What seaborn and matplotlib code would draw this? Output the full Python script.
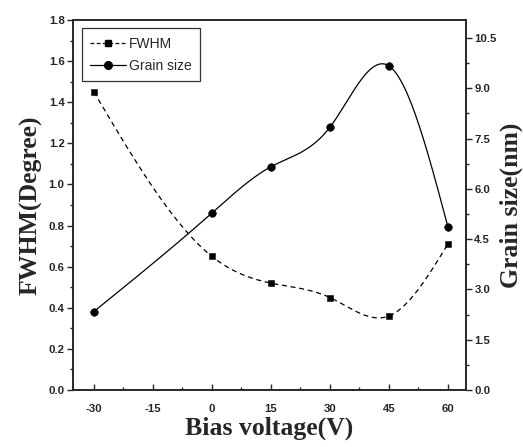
import numpy as np
import pandas as pd
import matplotlib
matplotlib.use("Agg")
import matplotlib.pyplot as plt
from matplotlib.lines import Line2D
from matplotlib.ticker import MultipleLocator, FormatStrFormatter
import seaborn as sns

# --- data ---
bias_v = [-30, 0, 15, 30, 45, 60]
fwhm_deg = [1.45, 0.65, 0.52, 0.45, 0.36, 0.71]
grain_nm = [2.34, 5.28, 6.66, 7.84, 9.67, 4.87]

SERIF = ["Liberation Serif", "DejaVu Serif"]
SANS = ["Liberation Sans Narrow", "Liberation Sans", "DejaVu Sans"]


def natural_spline(x, y, n=300):
    # smooth connecting line through the measured points (as Origin's spline)
    x = np.asarray(x, float)
    y = np.asarray(y, float)
    k = len(x)
    h = np.diff(x)
    A = np.zeros((k, k))
    r = np.zeros(k)
    A[0, 0] = A[-1, -1] = 1
    for i in range(1, k - 1):
        A[i, i - 1] = h[i - 1]
        A[i, i] = 2 * (h[i - 1] + h[i])
        A[i, i + 1] = h[i]
        r[i] = 6 * ((y[i + 1] - y[i]) / h[i] - (y[i] - y[i - 1]) / h[i - 1])
    m = np.linalg.solve(A, r)
    xs = np.linspace(x[0], x[-1], n)
    idx = np.clip(np.searchsorted(x, xs) - 1, 0, k - 2)
    x0, x1 = x[idx], x[idx + 1]
    hh = x1 - x0
    t0, t1 = x1 - xs, xs - x0
    ys = (m[idx] * t0 ** 3 / (6 * hh) + m[idx + 1] * t1 ** 3 / (6 * hh)
          + (y[idx] / hh - m[idx] * hh / 6) * t0
          + (y[idx + 1] / hh - m[idx + 1] * hh / 6) * t1)
    return xs, ys


sns.set_theme(style="ticks")
plt.rcParams["font.family"] = SANS
plt.rcParams["axes.linewidth"] = 1.2
plt.rcParams["axes.unicode_minus"] = False

df = pd.DataFrame({"bias": bias_v, "fwhm": fwhm_deg, "grain": grain_nm})
fx, fy = natural_spline(df["bias"], df["fwhm"])
gx, gy = natural_spline(df["bias"], df["grain"])

fig = plt.figure(figsize=(5.23, 4.47), dpi=100)
ax = fig.add_axes([0.1396, 0.1275, 0.7514, 0.8278])
ax2 = ax.twinx()

sns.lineplot(x=fx, y=fy, ax=ax, color="black", lw=0.9, linestyle=(0, (4, 3)), legend=False)
sns.scatterplot(data=df, x="bias", y="fwhm", ax=ax, marker="s", s=22, color="black",
                edgecolor="black", legend=False, zorder=3)
sns.lineplot(x=gx, y=gy, ax=ax2, color="black", lw=0.9, legend=False)
sns.scatterplot(data=df, x="bias", y="grain", ax=ax2, marker="o", s=30, color="black",
                edgecolor="black", legend=False, zorder=3)

ax.set_xlim(-35.3, 64.6)
ax.set_ylim(0, 1.8)
ax2.set_ylim(0, 11.04)

ax.xaxis.set_major_locator(MultipleLocator(15))
ax.xaxis.set_minor_locator(MultipleLocator(7.5))
ax.yaxis.set_major_locator(MultipleLocator(0.2))
ax.yaxis.set_minor_locator(MultipleLocator(0.1))
ax.yaxis.set_major_formatter(FormatStrFormatter("%.1f"))
ax2.yaxis.set_major_locator(MultipleLocator(1.5))
ax2.yaxis.set_minor_locator(MultipleLocator(0.75))
ax2.yaxis.set_major_formatter(FormatStrFormatter("%.1f"))

tick_font = dict(family=SANS, weight="bold", size=8.2)
ax.tick_params(axis="x", which="both", direction="in", top=False, pad=10)
ax.tick_params(axis="x", which="major", length=4, width=1)
ax.tick_params(axis="x", which="minor", length=2.5, width=1)
ax.tick_params(axis="y", which="major", direction="out", length=4, width=1, pad=2)
ax.tick_params(axis="y", which="minor", direction="out", length=2.5, width=1)
ax2.tick_params(axis="y", which="major", direction="out", length=4, width=1, pad=2)
ax2.tick_params(axis="y", which="minor", direction="out", length=2.5, width=1)
for lab in ax.get_xticklabels() + ax.get_yticklabels() + ax2.get_yticklabels():
    lab.set(**tick_font)

label_font = dict(family=SERIF, weight="bold", size=18.5)
ax.set_xlabel("Bias voltage(V)", labelpad=2, **label_font)
ax.set_ylabel("FWHM(Degree)", labelpad=4, **label_font)
ax2.set_ylabel("Grain size(nm)", labelpad=2, **label_font)

handles = [
    Line2D([], [], color="black", lw=0.9, linestyle=(0, (3, 2)), marker="s", markersize=4.5),
    Line2D([], [], color="black", lw=0.9, marker="o", markersize=5.5),
]
leg = ax2.legend(handles, ["FWHM", "Grain size"], loc="upper left",
                 bbox_to_anchor=(0.022, 0.977), prop=dict(family=["Liberation Sans", "DejaVu Sans"], size=10),
                 frameon=True, fancybox=False, edgecolor="black", handlelength=2.6,
                 handletextpad=0.2, borderpad=0.6, labelspacing=0.6, borderaxespad=0)
leg.get_frame().set_linewidth(0.9)

fig.savefig("out.png", dpi=100)
